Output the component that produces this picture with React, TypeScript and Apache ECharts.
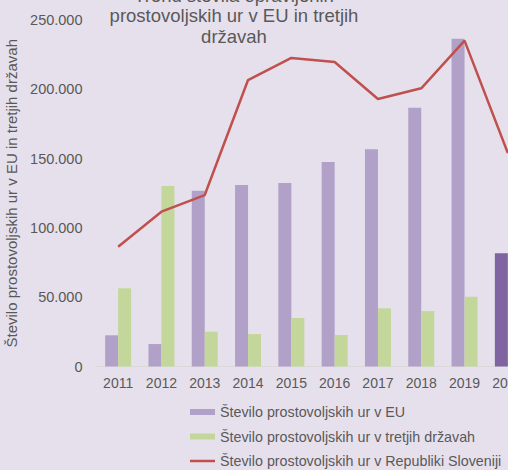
import React, { useEffect, useRef } from "react";
import * as echarts from "echarts";

const years = ["2011", "2012", "2013", "2014", "2015", "2016", "2017", "2018", "2019", "2020"];
const euHours = [22500, 16200, 126800, 131000, 132400, 147500, 156700, 186700, 236500, 81700];
const thirdHours = [56400, 130200, 25100, 23400, 35000, 22700, 42000, 40000, 50400, null];
const sloHours = [86400, 111700, 123700, 206700, 222600, 219700, 193000, 200700, 235100, 154000];
const yTicks = [0, 50000, 100000, 150000, 200000, 250000];

const seriesNames = [
  "Število prostovoljskih ur v EU",
  "Število prostovoljskih ur v tretjih državah",
  "Število prostovoljskih ur v Republiki Sloveniji",
];
const titleText = "Trend števila opravljenih\nprostovoljskih ur v EU in tretjih\ndržavah";
const yName = "Število prostovoljskih ur v EU in tretjih državah";

const BG = "#E6E0EC";
const FONT = "'Liberation Sans', Arial, sans-serif";

function fmt(v: number) {
  return String(v).replace(/\B(?=(\d{3})+(?!\d))/g, ".");
}

export default function App() {
  const ref = useRef<HTMLDivElement>(null);
  useEffect(() => {
    if (!ref.current) return;
    const chart = echarts.init(ref.current, null, { renderer: "svg" });
    chart.setOption({
      animation: false,
      backgroundColor: BG,
      textStyle: { fontFamily: FONT },
      graphic: [
        {
          type: "text",
          x: 234,
          y: -15,
          style: {
            text: titleText,
            textAlign: "center",
            fontSize: 18.5,
            lineHeight: 20.5,
            fill: "#595959",
            fontFamily: FONT,
          },
        },
      ],
      grid: {
        left: 96.5,
        top: 20,
        width: 433,
        height: 346.5,
        containLabel: false,
        outerBoundsMode: "none",
      },
      legend: {
        orient: "vertical",
        left: 190,
        top: 405,
        padding: 0,
        itemGap: 10.5,
        itemWidth: 25,
        itemHeight: 6,
        textStyle: { fontSize: 14.3, color: "#595959", fontFamily: FONT },
        data: [
          { name: seriesNames[0], icon: "rect" },
          { name: seriesNames[1], icon: "rect" },
          { name: seriesNames[2], icon: "path://M0,0h25v2.5h-25z" },
        ],
      },
      xAxis: {
        type: "category",
        data: years,
        axisTick: { show: false },
        axisLine: { lineStyle: { color: "#D9D9D9", width: 1 } },
        axisLabel: { color: "#595959", fontSize: 14, margin: 9, fontFamily: FONT },
      },
      yAxis: {
        type: "value",
        min: 0,
        max: 250000,
        interval: 50000,
        name: yName,
        nameLocation: "middle",
        nameRotate: 90,
        nameGap: 68,
        nameTextStyle: { color: "#595959", fontSize: 15, fontFamily: FONT },
        splitLine: { show: false },
        axisLine: { show: false },
        axisTick: { show: false },
        axisLabel: {
          color: "#595959",
          fontSize: 14.5,
          margin: 14,
          fontFamily: FONT,
          formatter: (v: number) => (yTicks.includes(v) ? fmt(v) : ""),
        },
      },
      series: [
        {
          name: seriesNames[0],
          type: "bar",
          data: euHours.map((v, i) =>
            i === years.length - 1 ? { value: v, itemStyle: { color: "#8064A2" } } : v
          ),
          itemStyle: { color: "#B1A0C7" },
          barGap: "0%",
          barCategoryGap: "40%",
        },
        {
          name: seriesNames[1],
          type: "bar",
          data: thirdHours,
          itemStyle: { color: "#C4D79B" },
          barGap: "0%",
          barCategoryGap: "40%",
        },
        {
          name: seriesNames[2],
          type: "line",
          data: sloHours,
          symbol: "none",
          lineStyle: { color: "#C0504D", width: 2.5 },
          itemStyle: { color: "#C0504D" },
        },
      ],
    });
    return () => chart.dispose();
  }, []);
  return (
    <div
      style={{
        position: "fixed",
        left: 0,
        top: 0,
        width: 508,
        height: 470,
        overflow: "hidden",
        background: BG,
      }}
    >
      <div ref={ref} style={{ width: 560, height: 520 }} />
    </div>
  );
}
